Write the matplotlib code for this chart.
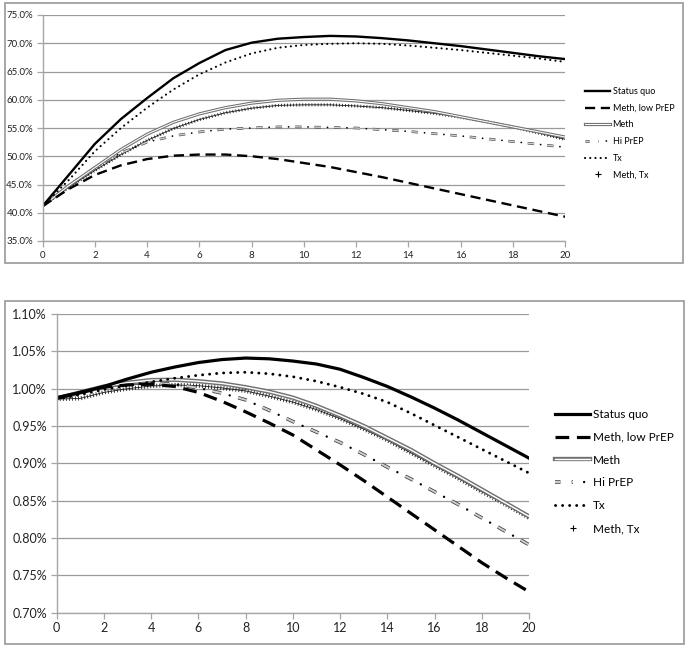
import matplotlib
matplotlib.use("Agg")
import matplotlib.pyplot as plt
import matplotlib.patheffects as pe
from matplotlib.lines import Line2D
from matplotlib.patches import Rectangle
from matplotlib.ticker import FuncFormatter
from matplotlib.legend_handler import HandlerTuple

plt.rcParams['font.family'] = ['Lato', 'DejaVu Sans']

years = list(range(21))
series_names = ["Status quo", "Meth, low PrEP", "Meth", "Hi PrEP", "Tx", "Meth, Tx"]

# Top chart (percent)
top_status_quo = [41.2, 46.7, 52.2, 56.6, 60.3, 63.8, 66.5, 68.8, 70.1, 70.8, 71.1, 71.3, 71.2, 70.9, 70.5, 70.0, 69.5, 68.9, 68.3, 67.7, 67.2]
top_meth_low_prep = [41.2, 44.2, 46.7, 48.4, 49.5, 50.1, 50.3, 50.3, 50.0, 49.5, 48.8, 48.1, 47.2, 46.3, 45.3, 44.3, 43.3, 42.3, 41.3, 40.3, 39.3]
top_meth = [41.2, 44.8, 48.0, 51.2, 53.9, 56.0, 57.5, 58.6, 59.4, 59.9, 60.1, 60.1, 59.8, 59.3, 58.6, 57.9, 57.0, 56.1, 55.2, 54.3, 53.4]
top_hi_prep = [41.2, 44.8, 48.0, 50.6, 52.5, 53.6, 54.3, 54.8, 55.0, 55.2, 55.2, 55.1, 55.0, 54.7, 54.4, 54.0, 53.6, 53.1, 52.6, 52.1, 51.6]
top_tx = [41.2, 45.8, 50.9, 55.0, 58.6, 61.8, 64.5, 66.6, 68.2, 69.2, 69.7, 69.9, 70.0, 69.9, 69.6, 69.2, 68.8, 68.3, 67.8, 67.3, 66.7]
top_meth_tx = [41.2, 44.5, 47.5, 50.3, 52.8, 54.9, 56.5, 57.7, 58.5, 59.0, 59.1, 59.1, 58.9, 58.6, 58.1, 57.6, 56.9, 56.1, 55.2, 54.1, 53.0]

# Bottom chart (percent)
bot_status_quo = [0.988, 0.995, 1.003, 1.013, 1.022, 1.029, 1.035, 1.039, 1.041, 1.040, 1.037, 1.033, 1.026, 1.015, 1.003, 0.989, 0.974, 0.958, 0.941, 0.924, 0.907]
bot_meth_low_prep = [0.987, 0.995, 1.002, 1.005, 1.006, 1.003, 0.995, 0.983, 0.969, 0.954, 0.938, 0.918, 0.898, 0.877, 0.855, 0.833, 0.811, 0.789, 0.767, 0.747, 0.728]
bot_meth = [0.987, 0.995, 1.003, 1.008, 1.0115, 1.012, 1.010, 1.007, 1.002, 0.996, 0.988, 0.977, 0.964, 0.950, 0.934, 0.918, 0.900, 0.883, 0.865, 0.847, 0.829]
bot_hi_prep = [0.987, 0.995, 1.003, 1.007, 1.008, 1.006, 1.001, 0.994, 0.985, 0.971, 0.956, 0.942, 0.928, 0.912, 0.895, 0.879, 0.862, 0.845, 0.827, 0.809, 0.791]
bot_tx = [0.986, 0.992, 0.999, 1.004, 1.009, 1.014, 1.018, 1.021, 1.022, 1.020, 1.016, 1.010, 1.002, 0.993, 0.982, 0.967, 0.951, 0.935, 0.919, 0.903, 0.887]
bot_meth_tx = [0.986, 0.987, 0.995, 1.000, 1.0035, 1.005, 1.004, 1.001, 0.997, 0.990, 0.982, 0.972, 0.960, 0.946, 0.931, 0.914, 0.897, 0.880, 0.862, 0.845, 0.827]

top_yticks = [35, 40, 45, 50, 55, 60, 65, 70, 75]
bot_yticks = [0.70, 0.75, 0.80, 0.85, 0.90, 0.95, 1.00, 1.05, 1.10]
xticks = list(range(0, 21, 2))

W, H = 688, 649
fig = plt.figure(figsize=(W / 100, H / 100), dpi=100)

GRID = '#9a9a9a'
SPINE = '#a6a6a6'
BORDER = '#a0a0a0'


def fx(px):
    return px / W


def fy(py):
    return 1 - py / H


for (x0, y0, x1, y1) in [(5, 3, 683, 263), (5, 300.5, 684, 643.5)]:
    fig.patches.append(Rectangle((fx(x0), fy(y1)), fx(x1) - fx(x0), fy(y0) - fy(y1),
                                 transform=fig.transFigure, fill=False,
                                 edgecolor=BORDER, linewidth=1.3))


def styles(lw, period):
    """Line property dicts per series; dash lengths given in points."""
    def pat(seq, w):
        return tuple(s / w for s in seq)
    d = 0.33 * period
    hi_w = lw * 0.6
    dot_w = lw * 0.75
    return {
        "Status quo": [dict(color='black', lw=lw)],
        "Meth, low PrEP": [dict(color='black', lw=lw, linestyle=(0, pat((4.3 * lw, 2.4 * lw), lw)))],
        "Meth": [dict(color='white', lw=lw * 0.45,
                      path_effects=[pe.Stroke(linewidth=lw * 1.35, foreground='#707070'), pe.Normal()])],
        "Hi PrEP": [dict(color='#cfcfcf', lw=hi_w, linestyle=(0, pat((d, period - d), hi_w)),
                         path_effects=[pe.Stroke(linewidth=lw * 1.1, foreground='#404040'), pe.Normal()]),
                    dict(color='black', lw=dot_w, dash_capstyle='round',
                         linestyle=((period - d) / 2 / dot_w, pat((0.05, period - 0.05), dot_w)))],
        "Tx": [dict(color='black', lw=lw * 0.9, linestyle=(0, (0.05, 2.4)), dash_capstyle='round')],
        "Meth, Tx": [dict(color='#1a1a1a', lw=0.6),
                     dict(color='#1a1a1a', lw=lw * 1.3, linestyle=(0, pat((0.6, 1.6), lw * 1.3)),
                          dash_capstyle='butt')],
    }


def draw(ax, data, lw, period, fs, yticks, fmt):
    st = styles(lw, period)
    order = ["Meth, Tx", "Hi PrEP", "Meth", "Meth, low PrEP", "Tx", "Status quo"]
    for name in order:
        ys = data[series_names.index(name)]
        for kw in st[name]:
            ax.plot(years, ys, **kw)
    ax.set_xlim(0, 20)
    ax.set_ylim(yticks[0], yticks[-1])
    ax.set_xticks(xticks)
    ax.set_yticks(yticks)
    ax.yaxis.set_major_formatter(FuncFormatter(fmt))
    ax.grid(axis='y', color=GRID, lw=0.9)
    ax.set_axisbelow(True)
    for s in ['top', 'right']:
        ax.spines[s].set_visible(False)
    for s in ['left', 'bottom']:
        ax.spines[s].set_color(SPINE)
        ax.spines[s].set_linewidth(1.0)
    ax.tick_params(axis='both', colors=SPINE, labelcolor='#222222', labelsize=fs,
                   direction='out', length=4, width=0.9, pad=3)


ax1 = fig.add_axes([fx(42.7), fy(241), fx(565) - fx(42.7), fy(15) - fy(241)])
draw(ax1, [top_status_quo, top_meth_low_prep, top_meth, top_hi_prep, top_tx, top_meth_tx],
     1.7, 14, 7, top_yticks, lambda v, p: f"{v:.1f}%")

ax2 = fig.add_axes([fx(56.7), fy(612.7), fx(529) - fx(56.7), fy(314) - fy(612.7)])
draw(ax2, [bot_status_quo, bot_meth_low_prep, bot_meth, bot_hi_prep, bot_tx, bot_meth_tx],
     2.3, 19, 9, bot_yticks, lambda v, p: f"{v:.2f}%")


def legend_handles(lw, period):
    st = styles(lw, period)
    hs = []
    for name in series_names:
        if name == "Meth, Tx":
            hs.append(Line2D([], [], color='black', lw=0, marker='+', markersize=4, markeredgewidth=0.8))
        elif len(st[name]) == 1:
            hs.append(Line2D([], [], **st[name][0]))
        else:
            hs.append(tuple(Line2D([], [], **kw) for kw in st[name]))
    return hs


fig.legend(handles=legend_handles(1.7, 9), labels=series_names,
           handler_map={tuple: HandlerTuple(ndivide=None, pad=0)},
           loc='upper left', bbox_to_anchor=(fx(585), fy(87)), bbox_transform=fig.transFigure,
           frameon=False, fontsize=6.5, handlelength=2.8, handletextpad=0.25,
           labelspacing=0.85, borderpad=0, borderaxespad=0)

fig.legend(handles=legend_handles(2.3, 12), labels=series_names,
           handler_map={tuple: HandlerTuple(ndivide=None, pad=0)},
           loc='upper left', bbox_to_anchor=(fx(555), fy(409)), bbox_transform=fig.transFigure,
           frameon=False, fontsize=8.5, handlelength=3.0, handletextpad=0.2,
           labelspacing=1.0, borderpad=0, borderaxespad=0)

fig.savefig('out.png', dpi=100)
